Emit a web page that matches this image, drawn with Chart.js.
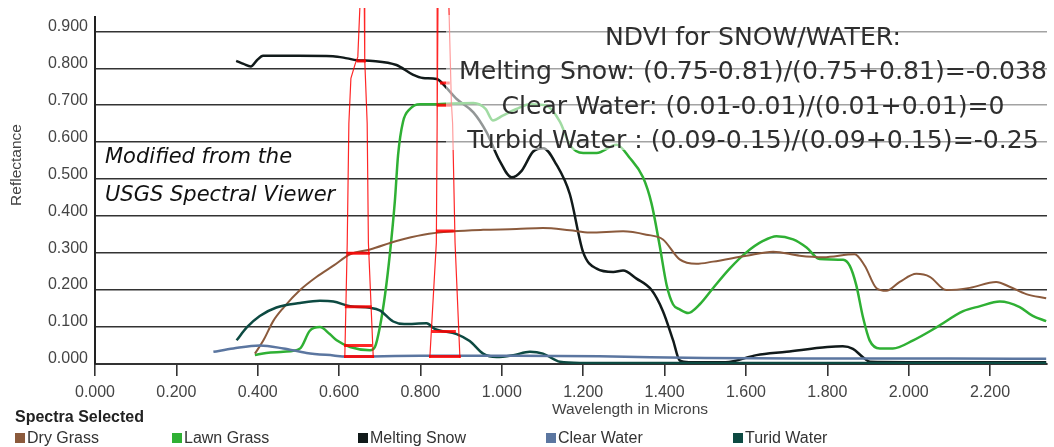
<!DOCTYPE html>
<html>
<head>
<meta charset="utf-8">
<script src="https://cdn.jsdelivr.net/npm/chart.js@4"></script>
<style>
  html, body { margin: 0; padding: 0; background: #fff; }
  #chart { display: block; }
</style>
</head>
<body>
<canvas id="chart" width="1054" height="447"></canvas>
<script>
// tick labels
var xTicks = [0, 0.2, 0.4, 0.6, 0.8, 1.0, 1.2, 1.4, 1.6, 1.8, 2.0, 2.2];
var yTicks = [0, 0.1, 0.2, 0.3, 0.4, 0.5, 0.6, 0.7, 0.8, 0.9];

// spectra (wavelength in microns, reflectance)
var dryGrassX = [0.393, 0.414, 0.438, 0.463, 0.504, 0.545, 0.586, 0.627, 0.676, 0.741, 0.807, 0.880, 0.954, 1.036, 1.101, 1.167, 1.216, 1.298, 1.355, 1.396, 1.437, 1.478, 1.519, 1.601, 1.667, 1.732, 1.790, 1.867, 1.892, 1.921, 1.945, 1.978, 2.019, 2.052, 2.093, 2.150, 2.215, 2.248, 2.289, 2.338];
var dryGrassY = [0.028, 0.064, 0.116, 0.152, 0.200, 0.236, 0.266, 0.297, 0.310, 0.333, 0.350, 0.359, 0.363, 0.365, 0.368, 0.362, 0.356, 0.359, 0.350, 0.337, 0.283, 0.271, 0.277, 0.293, 0.304, 0.293, 0.289, 0.297, 0.266, 0.205, 0.198, 0.222, 0.244, 0.236, 0.200, 0.206, 0.222, 0.209, 0.189, 0.178];

var lawnGrassX = [0.393, 0.421, 0.463, 0.504, 0.528, 0.553, 0.577, 0.594, 0.627, 0.676, 0.688, 0.700, 0.713, 0.725, 0.737, 0.745, 0.757, 0.774, 0.799, 0.840, 0.880, 0.930, 0.960, 0.978, 1.002, 1.036, 1.069, 1.110, 1.143, 1.167, 1.200, 1.233, 1.282, 1.314, 1.347, 1.368, 1.388, 1.405, 1.421, 1.437, 1.458, 1.486, 1.519, 1.560, 1.601, 1.642, 1.675, 1.716, 1.749, 1.781, 1.839, 1.855, 1.871, 1.888, 1.904, 1.929, 1.961, 2.011, 2.068, 2.134, 2.174, 2.224, 2.273, 2.305, 2.338];
var lawnGrassY = [0.024, 0.030, 0.033, 0.042, 0.090, 0.100, 0.081, 0.064, 0.046, 0.037, 0.046, 0.099, 0.188, 0.300, 0.440, 0.566, 0.655, 0.690, 0.703, 0.703, 0.705, 0.706, 0.690, 0.659, 0.672, 0.690, 0.703, 0.699, 0.655, 0.593, 0.571, 0.571, 0.593, 0.558, 0.505, 0.434, 0.320, 0.214, 0.161, 0.148, 0.138, 0.161, 0.205, 0.258, 0.302, 0.333, 0.346, 0.337, 0.315, 0.284, 0.282, 0.266, 0.214, 0.125, 0.064, 0.042, 0.042, 0.064, 0.099, 0.143, 0.156, 0.169, 0.154, 0.130, 0.116];

var meltingSnowX = [0.347, 0.365, 0.383, 0.398, 0.413, 0.500, 0.585, 0.620, 0.643, 0.683, 0.741, 0.781, 0.806, 0.840, 0.860, 0.889, 0.930, 0.962, 0.995, 1.024, 1.048, 1.077, 1.102, 1.134, 1.167, 1.200, 1.233, 1.274, 1.298, 1.331, 1.368, 1.396, 1.421, 1.437, 1.460, 1.550, 1.626, 1.700, 1.800, 1.838, 1.863, 1.887, 1.905, 2.000, 2.100, 2.200, 2.338];
var meltingSnowY = [0.820, 0.812, 0.805, 0.822, 0.834, 0.834, 0.833, 0.827, 0.822, 0.820, 0.809, 0.783, 0.774, 0.771, 0.752, 0.717, 0.681, 0.628, 0.549, 0.505, 0.522, 0.575, 0.584, 0.540, 0.460, 0.302, 0.258, 0.249, 0.253, 0.231, 0.200, 0.143, 0.064, 0.010, 0.005, 0.005, 0.024, 0.033, 0.046, 0.048, 0.041, 0.019, 0.006, 0.005, 0.005, 0.005, 0.005];

var clearWaterX = [0.291, 0.340, 0.405, 0.463, 0.520, 0.586, 0.618, 0.800, 1.000, 1.240, 1.500, 1.800, 2.100, 2.338];
var clearWaterY = [0.033, 0.042, 0.050, 0.042, 0.030, 0.023, 0.020, 0.022, 0.022, 0.021, 0.016, 0.015, 0.015, 0.014];

var turbidWaterX = [0.348, 0.373, 0.405, 0.446, 0.504, 0.553, 0.586, 0.627, 0.676, 0.700, 0.733, 0.760, 0.815, 0.835, 0.889, 0.921, 0.954, 0.987, 1.028, 1.069, 1.101, 1.143, 1.192, 1.400, 1.700, 2.000, 2.338];
var turbidWaterY = [0.064, 0.099, 0.130, 0.153, 0.165, 0.171, 0.169, 0.156, 0.152, 0.145, 0.115, 0.108, 0.110, 0.095, 0.081, 0.062, 0.028, 0.019, 0.024, 0.033, 0.028, 0.006, 0.003, 0.003, 0.003, 0.003, 0.003];

var spectraNames = ['Dry Grass', 'Lawn Grass', 'Melting Snow', 'Clear Water', 'Turid Water'];
var spectraColors = ['#8b5a3c', '#2fb034', '#111a1a', '#5b76a0', '#0d4a42'];

// red (0.63-0.69) and NIR (0.84-0.88) band outlines
var band1LeftX = [0.651, 0.646, 0.639, 0.629, 0.624, 0.620, 0.614];
var band1LeftY = [0.963, 0.831, 0.810, 0.773, 0.651, 0.328, 0.016];
var band1RightX = [0.662, 0.663, 0.669, 0.672, 0.684];
var band1RightY = [0.963, 0.823, 0.651, 0.328, 0.016];
var band2LeftX = [0.843, 0.841, 0.839, 0.823];
var band2LeftY = [0.963, 0.651, 0.328, 0.016];
var band2RightX = [0.870, 0.876, 0.879, 0.885, 0.897];
var band2RightY = [0.963, 0.707, 0.651, 0.328, 0.016];

var band1Levels = [0.82, 0.30, 0.155, 0.05, 0.02];
var band1From = [0.644, 0.618, 0.614, 0.612, 0.612];
var band1To = [0.666, 0.676, 0.680, 0.681, 0.686];
var band2Levels = [0.76, 0.70, 0.36, 0.088, 0.02];
var band2From = [0.848, 0.840, 0.838, 0.827, 0.821];
var band2To = [0.872, 0.876, 0.882, 0.887, 0.899];

var ndviLines = [
    'NDVI for SNOW/WATER:',
    'Melting Snow: (0.75-0.81)/(0.75+0.81)=-0.038',
    'Clear Water: (0.01-0.01)/(0.01+0.01)=0',
    'Turbid Water : (0.09-0.15)/(0.09+0.15)=-0.25'
];
var noteLines = ['Modified from the', 'USGS Spectral Viewer'];

function pts(xs, ys) {
    return xs.map(function(x, i) { return { x: x, y: ys[i] }; });
}

function barPts(levels, from, to) {
    var out = [];
    levels.forEach(function(lv, i) {
        out.push({ x: from[i], y: lv }, { x: to[i], y: lv }, { x: to[i], y: null });
    });
    return out;
}

function spectrum(i, xs, ys, width) {
    return {
        label: spectraNames[i],
        data: pts(xs, ys),
        borderColor: spectraColors[i],
        backgroundColor: spectraColors[i],
        borderWidth: width,
        pointRadius: 0,
        cubicInterpolationMode: 'monotone',
        order: 2
    };
}

function redLine(data, width) {
    return {
        label: '',
        data: data,
        borderColor: 'rgba(255,0,0,0.85)',
        borderWidth: width,
        pointRadius: 0,
        tension: 0,
        spanGaps: false,
        clip: false,
        order: 1
    };
}

var datasets = [
    spectrum(3, clearWaterX, clearWaterY, 2.5),
    spectrum(4, turbidWaterX, turbidWaterY, 2.5),
    spectrum(0, dryGrassX, dryGrassY, 2),
    spectrum(1, lawnGrassX, lawnGrassY, 2.5),
    spectrum(2, meltingSnowX, meltingSnowY, 2.5),
    redLine(pts(band1LeftX, band1LeftY), 1.2),
    redLine(pts(band1RightX, band1RightY), 1.2),
    redLine(pts(band2LeftX, band2LeftY), 1.2),
    redLine(pts(band2RightX, band2RightY), 1.2),
    redLine(barPts(band1Levels, band1From, band1To), 3),
    redLine(barPts(band2Levels, band2From, band2To), 3)
];

// white veil + texts drawn over the lines
var overlay = {
    id: 'overlay',
    afterDatasetsDraw: function(chart) {
        var c = chart.ctx;
        c.save();
        c.fillStyle = 'rgba(255,255,255,0.55)';
        c.fillRect(446, 15, 608, 135);

        c.fillStyle = '#2e2e2e';
        c.font = '24px "DejaVu Sans"';
        c.textAlign = 'center';
        c.textBaseline = 'alphabetic';
        var s = 588 / c.measureText(ndviLines[1]).width;
        ndviLines.forEach(function(t, i) {
            c.save();
            c.translate(753, 45 + i * 34.3);
            c.scale(s, 1);
            c.fillText(t, 0, 0);
            c.restore();
        });

        c.fillStyle = '#111';
        c.font = 'italic 21px "DejaVu Sans"';
        c.textAlign = 'left';
        c.fillText(noteLines[0], 105, 163);
        c.fillText(noteLines[1], 105, 201);
        c.restore();
    },
    afterDraw: function(chart) {
        var c = chart.ctx;
        c.save();
        c.fillStyle = '#444';
        c.font = '15.5px "Liberation Sans"';
        c.textAlign = 'center';
        c.textBaseline = 'middle';
        c.fillText('Wavelength in Microns', 630, 410);

        c.save();
        c.translate(17, 165);
        c.rotate(-Math.PI / 2);
        c.fillText('Reflectance', 0, 0);
        c.restore();

        c.textAlign = 'left';
        c.textBaseline = 'alphabetic';
        c.fillStyle = '#222';
        c.font = 'bold 16px "Liberation Sans"';
        c.fillText('Spectra Selected', 15, 422);

        var legendX = [15, 172, 358, 546, 733];
        c.font = '16px "Liberation Sans"';
        spectraNames.forEach(function(name, i) {
            c.fillStyle = spectraColors[i];
            c.fillRect(legendX[i], 433, 10, 10);
            c.fillStyle = '#333';
            c.fillText(name, legendX[i] + 12, 443);
        });
        c.restore();
    }
};

Chart.defaults.font.family = '"Liberation Sans", Arial, sans-serif';

var myChart = new Chart(document.getElementById('chart'), {
    type: 'line',
    data: { datasets: datasets },
    options: {
        responsive: false,
        animation: false,
        layout: { padding: { left: 0, right: 7, top: 8, bottom: 0 } },
        plugins: { legend: { display: false }, tooltip: { enabled: false } },
        scales: {
            x: {
                type: 'linear',
                min: 0,
                max: 2.34,
                afterBuildTicks: function(s) { s.ticks = xTicks.map(function(v) { return { value: v }; }); },
                afterFit: function(s) { s.height = 83; },
                ticks: {
                    callback: function(v) { return v.toFixed(3); },
                    color: '#444',
                    font: { size: 16 },
                    padding: 7,
                    maxRotation: 0,
                    autoSkip: false
                },
                grid: { drawOnChartArea: false, drawTicks: true, tickLength: 12, color: '#333', lineWidth: 1.6 },
                border: { color: '#333', width: 2 }
            },
            y: {
                type: 'linear',
                min: 0,
                max: 0.94,
                afterBuildTicks: function(s) { s.ticks = yTicks.map(function(v) { return { value: v }; }); },
                afterFit: function(s) { s.width = 95; },
                ticks: {
                    callback: function(v) { return v.toFixed(3); },
                    color: '#444',
                    font: { size: 16 },
                    padding: 7,
                    labelOffset: -5
                },
                grid: { drawTicks: false, color: '#333', lineWidth: 1.6 },
                border: { color: '#222', width: 2 }
            }
        }
    },
    plugins: [overlay]
});
</script>
</body>
</html>
